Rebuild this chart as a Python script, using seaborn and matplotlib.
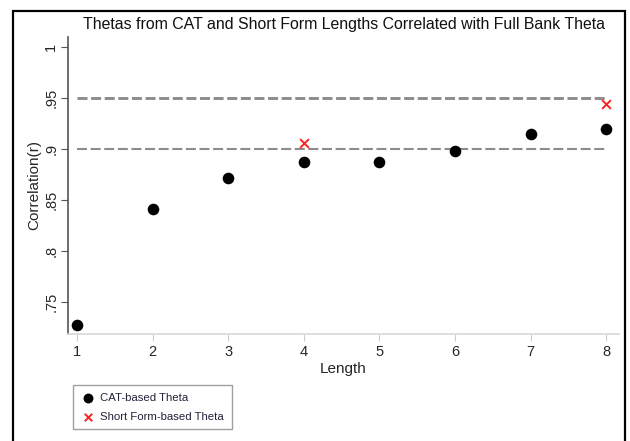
import matplotlib
matplotlib.use("Agg")
import matplotlib.pyplot as plt
import seaborn as sns
import pandas as pd
from matplotlib.patches import Rectangle

lengths = [1, 2, 3, 4, 5, 6, 7, 8]
cat_theta = [0.7275, 0.841, 0.872, 0.887, 0.887, 0.898, 0.915, 0.920]
sf_lengths = [4, 8]
sf_theta = [0.906, 0.944]
ref_levels = [0.90, 0.95]
yticks = [0.75, 0.80, 0.85, 0.90, 0.95, 1.0]
ytick_labels = [".75", ".8", ".85", ".9", ".95", "1"]
xticks = [1, 2, 3, 4, 5, 6, 7, 8]

title = "Thetas from CAT and Short Form Lengths Correlated with Full Bank Theta"

sns.set_style("white")
plt.rcParams["font.family"] = ["Liberation Sans", "DejaVu Sans"]
plt.rcParams["lines.scale_dashes"] = False

fig = plt.figure(figsize=(6.3, 4.41), dpi=100)
ax = fig.add_axes([68/630, 1-334/441, (619-68)/630, (334-37)/441])

for lvl, lw in zip(ref_levels, [1.5, 2.1]):
    ax.plot([lengths[0], lengths[-1]], [lvl, lvl], color="#8c8c8c", lw=lw,
            dashes=(7.2, 2.6), zorder=1)

cat_df = pd.DataFrame({"Length": lengths, "r": cat_theta})
sf_df = pd.DataFrame({"Length": sf_lengths, "r": sf_theta})
sns.scatterplot(data=cat_df, x="Length", y="r", ax=ax, color="black", s=70,
                marker="o", edgecolor="black", linewidth=0, label="CAT-based Theta", zorder=3)
sns.scatterplot(data=sf_df, x="Length", y="r", ax=ax, color="#ff2020", s=40,
                marker="x", linewidth=1.4, label="Short Form-based Theta", zorder=3)

ax.set_xlim(0.88, 8.17)
ax.set_ylim(0.7186, 1.0098)
ax.set_xticks(xticks)
ax.set_xticklabels([str(x) for x in xticks], fontsize=10.5)
ax.set_yticks(yticks)
ax.set_yticklabels(ytick_labels, rotation=90, va="center", fontsize=10.5)
ax.tick_params(axis="y", length=5, width=0.8, color="#555555", pad=2, left=True)
ax.tick_params(axis="x", length=5, width=0.8, color="#cccccc", pad=3, bottom=True)

for s in ["top", "right"]:
    ax.spines[s].set_visible(False)
ax.spines["left"].set_color("#555555")
ax.spines["left"].set_linewidth(1.2)
ax.spines["bottom"].set_color("#d8d8d8")
ax.spines["bottom"].set_linewidth(1.2)

ax.set_xlabel("Length", fontsize=11, labelpad=2)
ax.set_ylabel("Correlation(r)", fontsize=11, labelpad=2)

fig.text(344/630, 1-25/441, title, ha="center", va="center", fontsize=11.4, color="#111111")

leg = ax.legend(loc="upper left", bbox_to_anchor=(73/630, 1-385/441),
                bbox_transform=fig.transFigure, borderaxespad=0, fontsize=8.2,
                frameon=True, fancybox=False, edgecolor="#888888", labelcolor="#22223a",
                handletextpad=0.5, borderpad=0.7, labelspacing=0.75,
                handlelength=1.2, markerscale=0.85)
leg.get_frame().set_linewidth(1.0)

frame = Rectangle((13/630, -0.05), (625-13)/630, (1-11/441)+0.05,
                  transform=fig.transFigure, fill=False, edgecolor="black",
                  lw=1.6, clip_on=False)
fig.patches.append(frame)

fig.savefig("out.png", dpi=100)
